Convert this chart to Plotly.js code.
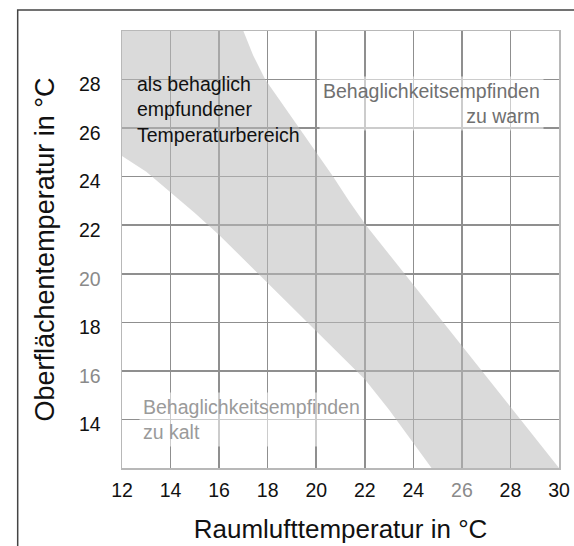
<!DOCTYPE html>
<html>
<head>
<meta charset="utf-8">
<script src="https://cdn.plot.ly/plotly-3.0.1.min.js"></script>
<style>html,body{margin:0;padding:0;background:#fff;overflow:hidden}</style>
</head>
<body>
<div id="chart" style="width:574px;height:546px"></div>
<script>
// Comfort band: upper (warm) boundary, from the top-left corner down to the lower right
const upperX = [12, 17, 17.4, 17.9, 18.6, 19.3, 20.0, 20.7, 21.35, 22.05, 23.64, 25.23, 26.82, 28.41, 30];
const upperY = [30, 30, 29, 28, 27, 26, 25, 24, 23, 22, 20, 18, 16, 14, 12];
// Comfort band: lower (cold) boundary, from the left edge down to the bottom
const lowerX = [12, 13, 14, 15, 16, 17, 18, 19, 20, 21, 22, 23, 24, 24.75];
const lowerY = [24.85, 24.2, 23.35, 22.5, 21.6, 20.65, 19.65, 18.65, 17.65, 16.65, 15.66, 14.4, 13.05, 12];

const xTicks = [12, 14, 16, 18, 20, 22, 24, 26, 28, 30];
const yTicks = [14, 16, 18, 20, 22, 24, 26, 28];
const xGrayTicks = [26];
const yGrayTicks = [16, 20];

const xTitle = 'Raumlufttemperatur in °C';
const yTitle = 'Oberflächentemperatur in °C';
const labelComfort = 'als behaglich<br>empfundener<br>Temperaturbereich';
const labelWarm = 'Behaglichkeitsempfinden<br>zu warm';
const labelCold = 'Behaglichkeitsempfinden<br>zu kalt';

const tickText = (vals, gray) => vals.map(v => gray.includes(v) ? '<span style="color:#8a8a8a">' + v + '</span>' : String(v));

const polyX = upperX.concat(lowerX.slice().reverse());
const polyY = upperY.concat(lowerY.slice().reverse());

const FONT = 'Liberation Sans, Arial, Helvetica, sans-serif';

const band = {
  x: polyX, y: polyY, type: 'scatter', mode: 'lines',
  fill: 'toself', fillcolor: 'rgba(188,188,188,0.55)',
  line: {width: 0, color: 'rgba(0,0,0,0)'},
  hoverinfo: 'skip', showlegend: false
};

const axisCommon = {
  showgrid: true, gridcolor: '#8f8f8f', gridwidth: 1.5,
  showline: true, mirror: true, linecolor: '#b8b8b8', linewidth: 1.5,
  zeroline: false, ticks: '', fixedrange: true,
  tickfont: {size: 19.5, color: '#111', family: FONT}
};

const layout = {
  width: 574, height: 546,
  margin: {l: 122, r: 15, t: 31, b: 78, pad: 0},
  paper_bgcolor: '#fff', plot_bgcolor: '#fff',
  font: {family: FONT, color: '#111'},
  showlegend: false,
  xaxis: Object.assign({}, axisCommon, {
    range: [12, 30], tickvals: xTicks, ticktext: tickText(xTicks, xGrayTicks),
    ticklabelstandoff: 4,
    title: {text: xTitle, font: {size: 26, color: '#111', family: FONT}, standoff: 20}
  }),
  yaxis: Object.assign({}, axisCommon, {
    range: [12, 30], tickvals: yTicks, ticktext: tickText(yTicks, yGrayTicks),
    ticklabelstandoff: 16, ticklabelshift: 5,
    title: {text: yTitle, font: {size: 27, color: '#111', family: FONT}, standoff: 16}
  }),
  annotations: [
    {x: 12.55, y: 26.77, xref: 'x', yref: 'y', text: labelComfort, showarrow: false,
     xanchor: 'left', yanchor: 'middle', align: 'left',
     font: {size: 19.5, color: '#111', family: FONT}},
    {x: 29.4, y: 27.0, xref: 'x', yref: 'y', text: labelWarm, showarrow: false,
     xanchor: 'right', yanchor: 'middle', align: 'right',
     bgcolor: 'rgba(255,255,255,0.55)', borderpad: 3,
     font: {size: 19.5, color: '#707070', family: FONT}},
    {x: 12.68, y: 14.0, xref: 'x', yref: 'y', text: labelCold, showarrow: false,
     xanchor: 'left', yanchor: 'middle', align: 'left',
     bgcolor: 'rgba(255,255,255,0.55)', borderpad: 3,
     font: {size: 19.5, color: '#9a9a9a', family: FONT}}
  ],
  shapes: [
    {type: 'rect', xref: 'paper', yref: 'paper', layer: 'above',
     x0: -0.2387, x1: 1.3, y0: -0.4, y1: 1.048,
     line: {color: '#444', width: 1.5}, fillcolor: 'rgba(0,0,0,0)'}
  ]
};

Plotly.newPlot('chart', [band], layout, {displayModeBar: false, staticPlot: true});
</script>
</body>
</html>
